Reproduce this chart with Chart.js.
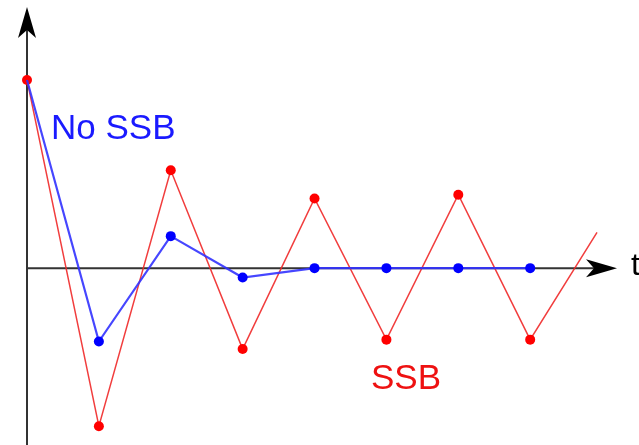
<!DOCTYPE html>
<html>
<head>
<meta charset="utf-8">
<script src="https://cdn.jsdelivr.net/npm/chart.js@4"></script>
<style>
    html, body { margin: 0; padding: 0; background: #fff; overflow: hidden; }
    canvas { display: block; }
</style>
</head>
<body>
<canvas id="ssb-chart" width="639" height="445"></canvas>
<script>
    "use strict";

    // Sampling instants
    var steps = [0, 1, 2, 3, 4, 5, 6, 7];
    var ssbSteps = [0, 1, 2, 3, 4, 5, 6, 7, 7.93];

    // Response with SSB (keeps oscillating)
    var ssbValues = [1, -0.84, 0.52, -0.43, 0.37, -0.38, 0.39, -0.38, 0.19];

    // Response without SSB (settles at zero)
    var noSsbValues = [1, -0.39, 0.17, -0.05, 0, 0, 0, 0];

    function toPoints(xs, ys) {
        return xs.map(function (x, i) { return {x: x, y: ys[i]}; });
    }

    // Axes with arrowheads plus the text labels
    var axesPlugin = {
        id: "arrowAxes",
        beforeDatasetsDraw: function (chart) {
            var ctx = chart.ctx;
            var x0 = chart.scales.x.getPixelForValue(0);
            var y0 = chart.scales.y.getPixelForValue(0);
            ctx.save();
            ctx.strokeStyle = "#333";
            ctx.lineWidth = 2;
            ctx.beginPath();
            ctx.moveTo(x0, 445);
            ctx.lineTo(x0, 22);
            ctx.moveTo(x0, y0);
            ctx.lineTo(603, y0);
            ctx.stroke();

            ctx.fillStyle = "#000";
            // up arrow
            ctx.beginPath();
            ctx.moveTo(x0, 7);
            ctx.lineTo(x0 + 9, 38);
            ctx.lineTo(x0, 30);
            ctx.lineTo(x0 - 9, 38);
            ctx.closePath();
            ctx.fill();
            // right arrow
            ctx.beginPath();
            ctx.moveTo(617, y0);
            ctx.lineTo(586, y0 - 9);
            ctx.lineTo(594, y0);
            ctx.lineTo(586, y0 + 9);
            ctx.closePath();
            ctx.fill();
            ctx.restore();
        },
        afterDatasetsDraw: function (chart) {
            var ctx = chart.ctx;
            var y0 = chart.scales.y.getPixelForValue(0);
            ctx.save();
            ctx.font = "35px 'Liberation Sans', Arial, sans-serif";
            ctx.textBaseline = "middle";
            ctx.textAlign = "left";
            ctx.fillStyle = "#1a1aff";
            ctx.fillText("No SSB", 51, 129);
            ctx.fillStyle = "#ee1111";
            ctx.fillText("SSB", 371, 379);
            ctx.fillStyle = "#000";
            ctx.font = "32px 'Liberation Sans', Arial, sans-serif";
            ctx.fillText("t", 631, y0 - 2);
            ctx.restore();
        }
    };

    var ctx1 = document.getElementById("ssb-chart").getContext("2d");
    var myChart1 = new Chart(ctx1, {
        type: "line",
        data: {
            datasets: [{
                label: "SSB",
                data: toPoints(ssbSteps, ssbValues),
                borderColor: "rgba(240, 40, 40, 0.9)",
                borderWidth: 1.5,
                pointBackgroundColor: "#ff0000",
                pointBorderColor: "#ff0000",
                pointRadius: [5, 5, 5, 5, 5, 5, 5, 5, 0],
                pointBorderWidth: 0,
                tension: 0,
                order: 2
            },
            {
                label: "No SSB",
                data: toPoints(steps, noSsbValues),
                borderColor: "rgba(50, 50, 255, 0.9)",
                borderWidth: 2.2,
                pointBackgroundColor: "#0000ff",
                pointBorderColor: "#0000ff",
                pointRadius: [0, 5, 5, 5, 5, 5, 5, 5],
                pointBorderWidth: 0,
                tension: 0,
                order: 1
            }]
        },
        options: {
            responsive: false,
            animation: false,
            clip: false,
            layout: { autoPadding: false, padding: { left: 27, right: 1, top: 0, bottom: 0 } },
            plugins: { legend: { display: false }, tooltip: { enabled: false } },
            scales: {
                x: { type: "linear", min: 0, max: 8.5, display: false },
                y: { type: "linear", min: -0.94, max: 1.425, display: false }
            }
        },
        plugins: [axesPlugin]
    });
</script>
</body>
</html>
